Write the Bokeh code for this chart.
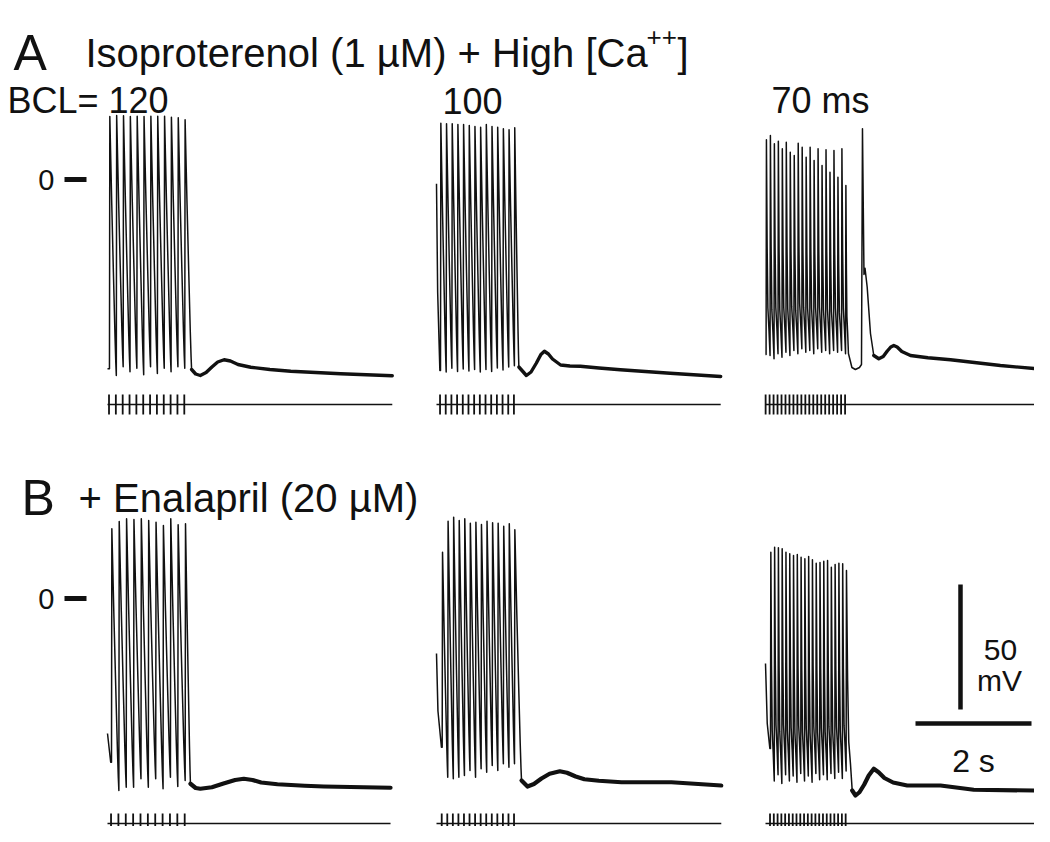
import numpy as np
from bokeh.plotting import figure
from bokeh.models import Range1d
from bokeh.embed import file_html
from bokeh.resources import INLINE
from bokeh.core.properties import value

# ---------------- data (time in s from trace start, voltage in mV) ----------------
PANEL_IDS = ["A1", "A2", "A3", "B1", "B2", "B3"]
BCL_LABELS = ["BCL= 120", "100", "70 ms"]

# first upstroke time, stimulus interval
A1_T0, A1_DT = 0.034, 0.118
A2_T0, A2_DT = 0.069, 0.098
A3_T0, A3_DT = 0.010, 0.0685
B1_T0, B1_DT = 0.069, 0.127
B2_T0, B2_DT = 0.098, 0.0959
B3_T0, B3_DT = 0.086, 0.0652

A1_PEAKS = [25.2, 25.6, 25.5, 25.2, 25.3, 25.2, 25.3, 25.3, 25.3, 24.9, 24.7, 23.9]
A2_PEAKS = [22.5, 22.3, 22.3, 22.0, 22.0, 21.6, 21.2, 20.9, 22.0, 21.2, 20.9, 20.3, 19.9, 20.7]
A3_PEAKS = [15.9, 17.6, 14.3, 15.3, 12.3, 14.9, 10.9, 9.6, 14.5, 12.9, 8.9, 12.9, 7.6, 12.3,
            5.6, 11.9, 2.9, 11.6, 0.9, 12.3, -2.4]
B1_PEAKS = [27.9, 30.8, 31.9, 31.6, 31.9, 31.2, 30.5, 29.2, 31.9, 29.5, 29.9]
B2_PEAKS = [18.5, 30.9, 32.5, 31.2, 31.9, 30.1, 30.5, 29.6, 30.9, 30.3, 30.1, 28.9, 29.9, 27.5]
B3_PEAKS = [18.5, 20.5, 20.3, 19.9, 18.5, 17.9, 17.2, 17.6, 16.5, 15.9, 16.8, 15.5, 14.1, 14.4,
            14.9, 15.2, 12.5, 13.6, 14.1, 13.9, 11.2]

A1_TROUGHS = [-78.4, -74.9, -76.9, -75.5, -78.1, -74.9, -77.6, -75.5, -76.9, -74.9, -75.5]
A2_TROUGHS = [-77.0, -75.5, -76.8, -75.8, -76.6, -76.0, -77.0, -76.0, -76.8, -75.4, -76.2, -75.0, -74.5]
A3_TROUGHS = [-70.4, -71.7, -69.7, -71.1, -69.1, -70.4, -68.4, -69.7, -67.7, -69.1, -68.4, -69.7,
              -67.7, -69.1, -68.4, -69.7, -68.4, -69.1, -68.4, -69.7]
B1_TROUGHS = [-76.8, -75.5, -75.5, -72.1, -75.5, -72.1, -76.1, -71.5, -75.2, -72.8]
B2_TROUGHS = [-71.5, -72.1, -71.5, -70.8, -68.8, -71.5, -68.1, -69.5, -66.8, -68.8, -66.1, -67.5, -66.1]
B3_TROUGHS = [-73.0, -70.5, -74.0, -70.5, -73.0, -71.0, -73.5, -70.0, -73.0, -71.0, -73.5, -70.0,
              -72.5, -70.5, -72.5, -70.0, -72.0, -69.5, -72.0, -69.0]

# beginning of each sweep (before first upstroke)
A1_PRE_T, A1_PRE_V = [0.0], [-75.7]
A2_PRE_T, A2_PRE_V = [0.0, 0.02, 0.058], [-1.7, -45.0, -76.4]
A3_PRE_T, A3_PRE_V = [0.0], [-70.0]
B1_PRE_T, B1_PRE_V = [0.0, 0.055], [-54.0, -65.5]
B2_PRE_T, B2_PRE_V = [0.0, 0.025, 0.085], [-22.0, -45.0, -59.5]
B3_PRE_T, B3_PRE_V = [0.0, 0.03, 0.075], [-26.0, -50.0, -60.0]

# extra (triggered) beat after the train, A3 only
A3_EXTRA_T = [1.43, 1.49, 1.55, 1.62, 1.655, 1.672, 1.698, 1.716, 1.753, 1.81, 1.867]
A3_EXTRA_V = [-69.6, -75.2, -76.0, -75.2, -74.0, 20.3, -38.0, -35.5, -43.0, -61.6, -70.4]

# post-train tails
A1_TAIL_T = [1.45, 1.52, 1.60, 1.70, 1.80, 1.90, 2.01, 2.12, 2.25, 2.47, 2.80, 3.16, 4.02, 4.91]
A1_TAIL_V = [-76.0, -77.8, -78.4, -77.2, -75.0, -73.0, -72.1, -72.6, -74.0, -75.1, -76.0, -76.7,
             -77.7, -78.5]
A2_TAIL_T = [1.42, 1.55, 1.63, 1.72, 1.80, 1.86, 1.93, 2.00, 2.14, 2.30, 2.48, 2.80, 3.17, 4.03, 4.90]
A2_TAIL_V = [-75.0, -78.4, -77.0, -73.5, -70.0, -68.7, -69.8, -71.8, -74.2, -74.6, -74.7, -75.4,
             -76.1, -77.5, -78.8]
A3_TAIL_T = [1.867, 1.953, 2.03, 2.10, 2.16, 2.212, 2.27, 2.35, 2.50, 2.80, 3.19, 4.05, 4.67]
A3_TAIL_V = [-70.4, -71.7, -70.8, -68.6, -67.0, -66.4, -67.0, -68.8, -70.4, -71.3, -72.1, -74.4, -75.7]
B1_TAIL_T = [1.43, 1.52, 1.60, 1.80, 2.00, 2.20, 2.35, 2.50, 2.65, 2.93, 3.40, 3.73, 4.88]
B1_TAIL_V = [-74.1, -75.8, -76.1, -75.5, -74.0, -72.6, -72.1, -72.6, -73.6, -74.3, -74.9, -75.2, -75.7]
B2_TAIL_T = [1.466, 1.569, 1.68, 1.81, 1.95, 2.126, 2.25, 2.40, 2.55, 2.80, 3.19, 4.05, 4.91]
B2_TAIL_V = [-72.8, -75.2, -74.2, -72.0, -70.1, -69.1, -69.7, -71.2, -72.3, -72.9, -73.5, -73.5, -74.8]
B3_TAIL_T = [1.495, 1.552, 1.62, 1.70, 1.78, 1.867, 1.95, 2.05, 2.20, 2.443, 3.017, 3.59, 4.655]
B3_TAIL_V = [-76.8, -78.8, -77.5, -74.5, -70.8, -68.1, -69.5, -71.8, -73.6, -74.8, -74.8, -76.5, -76.8]

# repolarisation shape (fraction of cycle -> fraction of amplitude), read from the sweeps
SHAPE_SLOW_U = [0.0, 0.3, 0.55, 0.8, 0.92, 1.0]
SHAPE_SLOW_F = [1.0, 0.66, 0.40, 0.15, 0.05, 0.0]
SHAPE_FAST_U = [0.0, 0.2, 0.4, 0.7, 0.9, 1.0]
SHAPE_FAST_F = [1.0, 0.50, 0.22, 0.12, 0.04, 0.0]

STIM_LEVEL = -90.0   # mV position of stimulus marker line
STIM_HALF = 4.0
SCALE_MV = 50
SCALE_S = 2

# ---------------- layout (pixel mapping of the original figure) ----------------
PX_PER_S = 58.0
PX_PER_MV = 2.5
X_ORIGIN_PX = 107.0   # t = 0 of column 1
Y_ORIGIN_PX = 179.0   # 0 mV of row A


def X(px):
    return (px - X_ORIGIN_PX) / PX_PER_S


def Y(py):
    return (Y_ORIGIN_PX - py) / PX_PER_MV


COL_OFF = [0.0, X(436), X(765)]
ROW_OFF = [0.0, Y(598)]

W, H = 1034, 826
p = figure(width=W, height=H, output_backend="svg", toolbar_location=None,
           x_range=Range1d(X(0), X(W)), y_range=Range1d(Y(H), Y(0)),
           min_border=0, min_border_left=0, min_border_right=0,
           min_border_top=0, min_border_bottom=0)
p.xaxis.visible = False
p.yaxis.visible = False
p.grid.visible = False
p.outline_line_color = None
p.background_fill_color = "white"
p.border_fill_color = "white"

INK = "#111111"
FONT = value("Liberation Sans")

panels = {
    "A1": dict(t0=A1_T0, dt=A1_DT, pk=A1_PEAKS, tr=A1_TROUGHS, pre=(A1_PRE_T, A1_PRE_V),
               tail=(A1_TAIL_T, A1_TAIL_V), extra=None, shape="slow", col=0, row=0, tw=3.4),
    "A2": dict(t0=A2_T0, dt=A2_DT, pk=A2_PEAKS, tr=A2_TROUGHS, pre=(A2_PRE_T, A2_PRE_V),
               tail=(A2_TAIL_T, A2_TAIL_V), extra=None, shape="slow", col=1, row=0, tw=3.4),
    "A3": dict(t0=A3_T0, dt=A3_DT, pk=A3_PEAKS, tr=A3_TROUGHS, pre=(A3_PRE_T, A3_PRE_V),
               tail=(A3_TAIL_T, A3_TAIL_V), extra=(A3_EXTRA_T, A3_EXTRA_V), shape="fast",
               col=2, row=0, tw=3.4),
    "B1": dict(t0=B1_T0, dt=B1_DT, pk=B1_PEAKS, tr=B1_TROUGHS, pre=(B1_PRE_T, B1_PRE_V),
               tail=(B1_TAIL_T, B1_TAIL_V), extra=None, shape="slow", col=0, row=1, tw=4.2),
    "B2": dict(t0=B2_T0, dt=B2_DT, pk=B2_PEAKS, tr=B2_TROUGHS, pre=(B2_PRE_T, B2_PRE_V),
               tail=(B2_TAIL_T, B2_TAIL_V), extra=None, shape="slow", col=1, row=1, tw=4.2),
    "B3": dict(t0=B3_T0, dt=B3_DT, pk=B3_PEAKS, tr=B3_TROUGHS, pre=(B3_PRE_T, B3_PRE_V),
               tail=(B3_TAIL_T, B3_TAIL_V), extra=None, shape="fast", col=2, row=1, tw=4.2),
}

RISE = 0.006

for pid in PANEL_IDS:
    d = panels[pid]
    su, sf = (SHAPE_SLOW_U, SHAPE_SLOW_F) if d["shape"] == "slow" else (SHAPE_FAST_U, SHAPE_FAST_F)
    ts = list(d["pre"][0])
    vs = list(d["pre"][1])
    n = len(d["pk"])
    ups = [d["t0"] + k * d["dt"] for k in range(n)]
    after = d["extra"] if d["extra"] is not None else d["tail"]
    for k in range(n):
        s = ups[k]
        if ts[-1] < s - 1e-9:
            ts.append(s)
            vs.append(vs[-1])
        pk = d["pk"][k]
        ts.append(s + RISE)
        vs.append(pk)
        if k < n - 1:
            t_end, v_end = ups[k + 1], d["tr"][k]
        else:
            t_end, v_end = after[0][0], after[1][0]
        for u, f in zip(su[1:], sf[1:]):
            ts.append(s + RISE + u * (t_end - s - RISE))
            vs.append(v_end + f * (pk - v_end))
    if d["extra"] is not None:
        ts += list(d["extra"][0][1:])
        vs += list(d["extra"][1][1:])
    co, ro = COL_OFF[d["col"]], ROW_OFF[d["row"]]
    # thin sweep (train)
    p.line([t + co for t in ts], [v + ro for v in vs], line_color=INK, line_width=1.5,
           line_join="round")
    # noisy, thick tail
    tt, tv = d["tail"]
    p.line([t + co for t in tt], [v + ro for v in tv], line_color=INK, line_width=d["tw"],
           line_join="round", line_cap="round")
    # stimulus marker line and ticks
    t_end = tt[-1]
    p.line([co, t_end + co], [STIM_LEVEL + ro, STIM_LEVEL + ro], line_color=INK, line_width=1.6)
    stims = [u - 0.008 + co for u in ups]
    p.segment(x0=stims, y0=[STIM_LEVEL - STIM_HALF + ro] * n, x1=stims,
              y1=[STIM_LEVEL + STIM_HALF + ro] * n, line_color=INK, line_width=1.8)

# zero-level markers
for ro in ROW_OFF:
    p.segment(x0=[X(64)], y0=[ro], x1=[X(86)], y1=[ro], line_color=INK, line_width=5,
              line_cap="butt")
p.text(x=[X(54), X(54)], y=ROW_OFF, text=["0", "0"], text_font=FONT,
       text_font_size=value("29px"), text_align="right", text_baseline="middle", text_color=INK)

# scale bars (50 mV vertical, 2 s horizontal), placed in row B / column 3
sb_x = X(960)
sb_y0 = Y(709)
p.segment(x0=[sb_x], y0=[sb_y0], x1=[sb_x], y1=[sb_y0 + SCALE_MV], line_color=INK,
          line_width=4.5, line_cap="butt")
hb_x0 = X(915)
hb_y = Y(723)
p.segment(x0=[hb_x0], y0=[hb_y], x1=[hb_x0 + SCALE_S], y1=[hb_y], line_color=INK,
          line_width=4.5, line_cap="butt")
p.text(x=[X(1000), X(999)], y=[Y(649), Y(680)], text=[str(SCALE_MV), "mV"],
       text_font=FONT, text_font_size=value("30px"), text_align="center",
       text_baseline="alphabetic", text_color=INK)
p.text(x=[X(973)], y=[Y(760)], text=[f"{SCALE_S} s"], text_font=FONT,
       text_font_size=value("32px"), text_align="center", text_baseline="alphabetic",
       text_color=INK)

# panel letters and titles
p.text(x=[X(13), X(21)], y=[Y(52), Y(497)], text=["A", "B"], text_font=FONT,
       text_font_size=value("50px"), text_align="left", text_baseline="alphabetic", text_color=INK)
p.text(x=[X(85)], y=[Y(52)], text=["Isoproterenol (1 µM) + High [Ca"],
       text_font=FONT, text_font_size=value("40px"), text_align="left",
       text_baseline="alphabetic", text_color=INK)
p.text(x=[X(646)], y=[Y(36)], text=["++"], text_font=FONT,
       text_font_size=value("26px"), text_align="left", text_baseline="alphabetic", text_color=INK)
p.text(x=[X(677)], y=[Y(52)], text=["]"], text_font=FONT,
       text_font_size=value("40px"), text_align="left", text_baseline="alphabetic", text_color=INK)
p.text(x=[X(78)], y=[Y(497)], text=["+ Enalapril (20 µM)"], text_font=FONT,
       text_font_size=value("40px"), text_align="left", text_baseline="alphabetic", text_color=INK)

# BCL labels
p.text(x=[X(7), X(442), X(771)], y=[Y(100)] * 3, text=BCL_LABELS,
       text_font=FONT, text_font_size=value("36px"), text_align="left",
       text_baseline="alphabetic", text_color=INK)

open("out.html", "w").write(file_html(p, INLINE))
